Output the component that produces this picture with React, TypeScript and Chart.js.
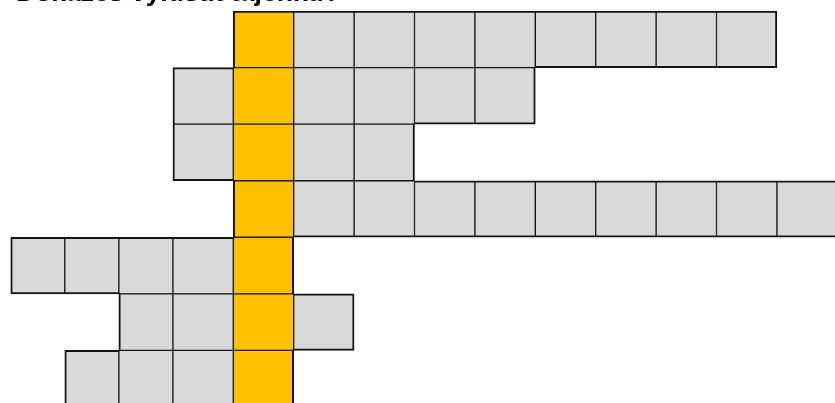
import React, { useEffect, useRef } from "react";
import { Chart, registerables } from "chart.js";

Chart.register(...registerables);

// Crossword rows (one per word), columns counted relative to the solution column (0)
const rowLabels = ["1", "2", "3", "4", "5", "6", "7"];
const wordStart = [0, -1, -1, 0, -4, -2, -3];
const wordLength = [9, 6, 4, 10, 5, 4, 4];
const solutionColumn = 0;
// column edges in grid units, for columns -4 .. 9
const firstColumn = -4;
const columnEdges = [-3.685, -2.79, -1.895, -1, 0, 1, 2, 3, 4, 5, 6, 7, 8, 9, 10];
const titleText = "Dokážeš vyluštit tajenku?";

const GRAY = "#d9d9d9";
const YELLOW = "#ffc000";
const BORDER = "#141414";

const CANVAS_W = 900;
const CANVAS_H = 407;
const PX_PER_UNIT = 60.4;
const ZERO_PX = 233.3;

function hasCell(r: number, col: number) {
  if (r < 0 || r >= rowLabels.length) return false;
  return col >= wordStart[r] && col < wordStart[r] + wordLength[r];
}

export default function App() {
  const ref = useRef<HTMLCanvasElement | null>(null);

  useEffect(() => {
    if (!ref.current) return;
    const maxLen = Math.max(...wordLength);
    const datasets = [] as any[];
    for (let k = 0; k < maxLen; k++) {
      const data = rowLabels.map((_, r) => {
        if (k >= wordLength[r]) return null;
        const col = wordStart[r] + k;
        const i = col - firstColumn;
        return [columnEdges[i], columnEdges[i + 1]];
      });
      const colors = rowLabels.map((_, r) =>
        wordStart[r] + k === solutionColumn ? YELLOW : GRAY
      );
      const borders = rowLabels.map((_, r) => {
        const col = wordStart[r] + k;
        return {
          left: hasCell(r, col - 1) ? 1 : 2,
          right: hasCell(r, col + 1) ? 1 : 2,
          top: hasCell(r - 1, col) ? 1 : 2,
          bottom: hasCell(r + 1, col) ? 1 : 2,
        };
      });
      datasets.push({
        label: "slot " + k,
        data,
        backgroundColor: colors,
        borderColor: BORDER,
        borderWidth: borders,
        borderSkipped: false,
        grouped: false,
        barPercentage: 1,
        categoryPercentage: 1,
      });
    }

    const titlePlugin = {
      id: "cutTitle",
      afterDraw(chart: any) {
        const ctx = chart.ctx;
        ctx.save();
        ctx.font = "bold 26.5px 'Liberation Sans', Arial, sans-serif";
        ctx.fillStyle = "#000";
        ctx.textBaseline = "alphabetic";
        ctx.textAlign = "left";
        ctx.fillText(titleText, 16, 1);
        ctx.restore();
      },
    };

    const xMin = -ZERO_PX / PX_PER_UNIT;
    const xMax = xMin + CANVAS_W / PX_PER_UNIT;

    const chart = new Chart(ref.current, {
      type: "bar",
      data: { labels: rowLabels, datasets },
      options: {
        indexAxis: "y",
        animation: false,
        responsive: false,
        layout: { padding: { top: 11, left: 0, right: 0, bottom: 0 } },
        scales: {
          x: { type: "linear", min: xMin, max: xMax, display: false },
          y: { type: "category", display: false, offset: true },
        },
        plugins: {
          legend: { display: false },
          tooltip: { enabled: false },
          title: { display: false },
        },
      },
      plugins: [titlePlugin],
    } as any);
    return () => chart.destroy();
  }, []);

  return (
    <div
      style={{
        position: "fixed",
        left: 0,
        top: 0,
        width: 835,
        height: 403,
        overflow: "hidden",
        background: "#fff",
      }}
    >
      <canvas
        ref={ref}
        width={CANVAS_W}
        height={CANVAS_H}
        style={{ display: "block", width: CANVAS_W, height: CANVAS_H }}
      />
    </div>
  );
}
